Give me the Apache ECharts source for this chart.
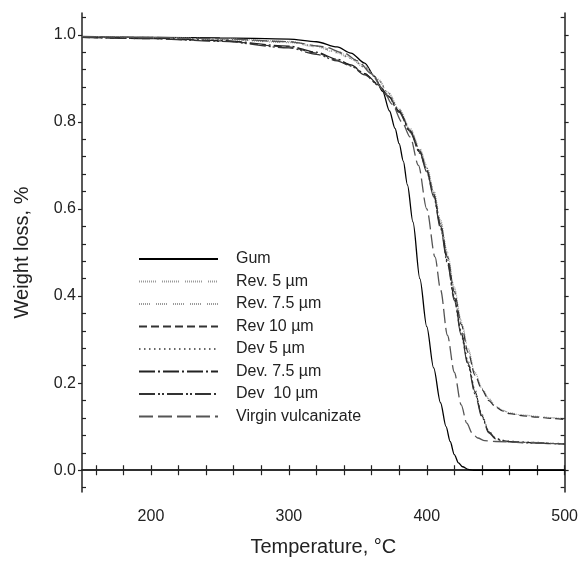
<!DOCTYPE html>
<html>
<head>
<meta charset="utf-8">
<script src="https://cdn.jsdelivr.net/npm/echarts@6/dist/echarts.min.js"></script>
<style>html,body{margin:0;padding:0;background:#fff}#c{width:581px;height:562px}</style>
</head>
<body>
<div id="c"></div>
<script>
// ---- data ----
const seriesNames = ['Gum','Rev. 5 \u00b5m','Rev. 7.5 \u00b5m','Rev 10 \u00b5m','Dev 5 \u00b5m','Dev. 7.5 \u00b5m','Dev  10 \u00b5m','Virgin vulcanizate'];

const gumT = [150,200,250,300,320,335,345,355,362,368,373,377,380,383,386,390,395,400,405,410,414,417,420,423,426,430,434,500];
const gumW = [0.995,0.994,0.993,0.990,0.984,0.972,0.958,0.935,0.905,0.870,0.825,0.785,0.750,0.710,0.655,0.570,0.440,0.330,0.235,0.155,0.100,0.066,0.036,0.017,0.008,0.002,0,0];

const clusterT = [150,200,250,300,320,335,345,355,365,372,380,388,395,400,405,410,415,420,425,430,435,440,445,450,455,460,470,480,490,500];
const rev5W  = [0.996,0.994,0.991,0.985,0.975,0.962,0.948,0.928,0.898,0.868,0.830,0.785,0.740,0.700,0.645,0.575,0.500,0.420,0.345,0.280,0.225,0.190,0.165,0.148,0.138,0.132,0.127,0.124,0.121,0.118];
const rev75W = [0.995,0.993,0.989,0.982,0.972,0.958,0.944,0.924,0.895,0.866,0.828,0.782,0.736,0.695,0.640,0.570,0.495,0.415,0.340,0.275,0.222,0.188,0.163,0.147,0.137,0.131,0.126,0.123,0.120,0.117];
const rev10W = [0.994,0.991,0.986,0.972,0.958,0.942,0.930,0.910,0.885,0.860,0.825,0.780,0.733,0.690,0.635,0.565,0.490,0.410,0.335,0.270,0.218,0.185,0.160,0.145,0.136,0.130,0.125,0.122,0.119,0.116];
const dev5W  = [0.996,0.994,0.990,0.984,0.974,0.960,0.946,0.925,0.896,0.866,0.828,0.782,0.736,0.694,0.638,0.565,0.485,0.400,0.320,0.250,0.185,0.128,0.090,0.074,0.069,0.067,0.065,0.064,0.062,0.061];
const dev75W = [0.995,0.992,0.987,0.974,0.960,0.944,0.931,0.911,0.886,0.860,0.824,0.778,0.730,0.688,0.632,0.560,0.480,0.395,0.315,0.245,0.180,0.125,0.088,0.073,0.068,0.066,0.064,0.063,0.062,0.060];
const dev10W = [0.994,0.991,0.985,0.970,0.955,0.940,0.928,0.908,0.884,0.858,0.822,0.776,0.728,0.685,0.628,0.555,0.475,0.390,0.310,0.240,0.175,0.122,0.086,0.072,0.067,0.065,0.063,0.062,0.061,0.060];

const virginT = [150,200,250,300,325,340,350,360,368,375,382,388,394,400,406,410,415,420,425,429,433,437,442,450,470,500];
const virginW = [0.996,0.994,0.991,0.984,0.973,0.958,0.940,0.910,0.875,0.840,0.800,0.765,0.700,0.600,0.490,0.415,0.310,0.225,0.150,0.108,0.085,0.074,0.068,0.066,0.064,0.060];

const xMajorTicks = [200,300,400,500];
const xMinorTicks = [160,180,220,240,260,280,320,340,360,380,420,440,460,480];
const yMajorTicks = [0,0.2,0.4,0.6,0.8,1.0];
const yMinorTicks = [-0.04,0.04,0.08,0.12,0.16,0.24,0.28,0.32,0.36,0.44,0.48,0.52,0.56,0.64,0.68,0.72,0.76,0.84,0.88,0.92,0.96,1.04];

// ---- chart ----
const FONT = 'Liberation Sans, Arial, sans-serif';
const AX = '#222';
function pairs(t, w){ return t.map((x,i)=>[x,w[i]]); }

const seriesData = [
  pairs(gumT, gumW), pairs(clusterT, rev5W), pairs(clusterT, rev75W), pairs(clusterT, rev10W),
  pairs(clusterT, dev5W), pairs(clusterT, dev75W), pairs(clusterT, dev10W), pairs(virginT, virginW)
];
const dotGroup = (n, gap) => { const a=[]; for(let i=0;i<n;i++){a.push(1,1);} a[a.length-1]=gap; return a; };
const styles = [
  {color:'#000', width:1.3, type:'solid'},
  {color:'#9a9a9a', width:1.1, type:dotGroup(9,6)},
  {color:'#9a9a9a', width:1.1, type:dotGroup(6,6)},
  {color:'#333', width:1.2, type:[8,4]},
  {color:'#666', width:1.2, type:[1.5,3.5]},
  {color:'#222', width:1.2, type:[16,3,2,3]},
  {color:'#333', width:1.2, type:[16,3,2,2,2,3]},
  {color:'#555', width:1.3, type:[14,5]}
];

const commonX = {type:'value', min:150, max:500, splitLine:{show:false}};
const commonY = {type:'value', min:-0.05, max:1.05, splitLine:{show:false}};
const line = {show:true, lineStyle:{color:AX, width:1.5}};

const option = {
  backgroundColor:'#fff',
  animation:false,
  textStyle:{fontFamily:FONT},
  grid:{left:82, right:14, top:13, bottom:66, containLabel:false},
  legend:{
    orient:'vertical', left:138, top:251, padding:0,
    itemWidth:79, itemHeight:14, itemGap:6.5,
    itemStyle:{color:'rgba(0,0,0,0)', borderColor:'rgba(0,0,0,0)', borderWidth:0, opacity:0},
    textStyle:{fontFamily:FONT, fontSize:16, color:'#222', padding:[0,0,0,13], lineHeight:16},
    data: seriesNames
  },
  xAxis:[
    Object.assign({}, commonX, {position:'bottom', axisLine:line,
      axisTick:{show:true, inside:false, length:5, customValues:xMajorTicks, lineStyle:{color:AX,width:1.2}},
      axisLabel:{customValues:xMajorTicks, fontSize:16, color:'#222', margin:17, fontFamily:FONT},
      name:'Temperature, \u00b0C', nameLocation:'middle', nameGap:45,
      nameTextStyle:{fontSize:20, color:'#222', fontFamily:FONT}}),
    Object.assign({}, commonX, {position:'bottom', axisLine:{show:false},
      axisTick:{show:true, inside:true, length:5, customValues:xMinorTicks, lineStyle:{color:AX,width:1.2}},
      axisLabel:{show:false}}),
    Object.assign({}, commonX, {position:'top', axisLine:line,
      axisTick:{show:true, inside:false, length:5, customValues:xMajorTicks, lineStyle:{color:AX,width:1.2}},
      axisLabel:{show:false}}),
    Object.assign({}, commonX, {position:'top', axisLine:{show:false},
      axisTick:{show:true, inside:true, length:5, customValues:xMinorTicks, lineStyle:{color:AX,width:1.2}},
      axisLabel:{show:false}})
  ],
  yAxis:[
    Object.assign({}, commonY, {position:'left', axisLine:line,
      axisTick:{show:true, inside:false, length:4, customValues:yMajorTicks, lineStyle:{color:AX,width:1.2}},
      axisLabel:{customValues:yMajorTicks, fontSize:16, color:'#222', margin:6, fontFamily:FONT,
        formatter:v=>Number(v).toFixed(1)},
      name:'Weight loss, %', nameLocation:'middle', nameGap:50,
      nameTextStyle:{fontSize:20, color:'#222', fontFamily:FONT}}),
    Object.assign({}, commonY, {position:'left', axisLine:{show:false},
      axisTick:{show:true, inside:true, length:4, customValues:yMinorTicks, lineStyle:{color:AX,width:1.2}},
      axisLabel:{show:false}}),
    Object.assign({}, commonY, {position:'right', axisLine:line,
      axisTick:{show:true, inside:false, length:4, customValues:yMajorTicks, lineStyle:{color:AX,width:1.2}},
      axisLabel:{show:false}}),
    Object.assign({}, commonY, {position:'right', axisLine:{show:false},
      axisTick:{show:true, inside:true, length:4, customValues:yMinorTicks, lineStyle:{color:AX,width:1.2}},
      axisLabel:{show:false}})
  ],
  series: seriesNames.map((n,i)=>({
    name:n, type:'line', xAxisIndex:0, yAxisIndex:0,
    data: seriesData[i], showSymbol:false, symbol:'none',
    smooth:0.3, smoothMonotone:'x',
    itemStyle:{color:styles[i].color},
    lineStyle:{color:styles[i].color, width:styles[i].width, type:styles[i].type},
    z: 2
  }))
};

const chart = echarts.init(document.getElementById('c'), null, {renderer:'canvas'});
chart.setOption(option);
</script>
</body>
</html>
